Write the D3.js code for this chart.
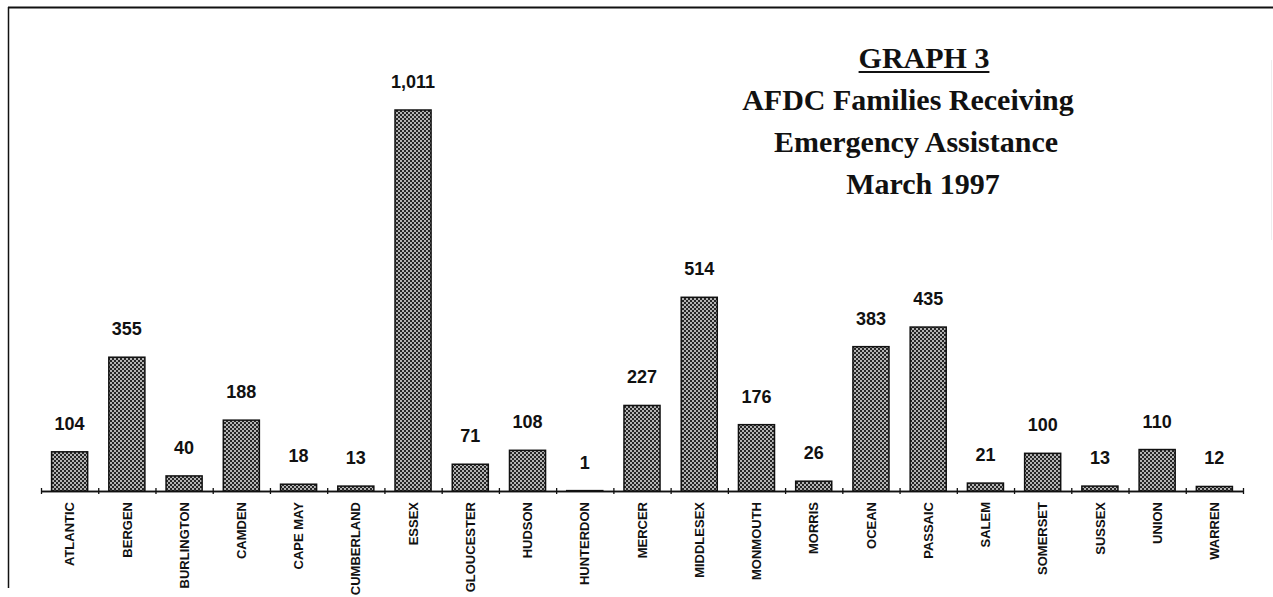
<!DOCTYPE html>
<html>
<head>
<meta charset="utf-8">
<script src="https://cdn.jsdelivr.net/npm/d3@7"></script>
<style>
  body { margin: 0; background: #fff; }
  .value { font-family: "Liberation Sans", Arial, sans-serif; font-weight: bold; font-size: 18px; fill: #111; }
  .cat { font-family: "Liberation Sans", Arial, sans-serif; font-weight: bold; font-size: 13px; fill: #111; }
  .title { font-family: "Liberation Serif", "Times New Roman", serif; font-weight: bold; font-size: 30px; fill: #111; }
</style>
</head>
<body>
<div id="chart-container"></div>
<script>
const counties = ["ATLANTIC", "BERGEN", "BURLINGTON", "CAMDEN", "CAPE MAY", "CUMBERLAND", "ESSEX",
    "GLOUCESTER", "HUDSON", "HUNTERDON", "MERCER", "MIDDLESEX", "MONMOUTH", "MORRIS", "OCEAN",
    "PASSAIC", "SALEM", "SOMERSET", "SUSSEX", "UNION", "WARREN"];
const families = [104, 355, 40, 188, 18, 13, 1011, 71, 108, 1, 227, 514, 176, 26, 383, 435, 21, 100, 13, 110, 12];
const titleLines = ["GRAPH 3", "AFDC Families Receiving", "Emergency Assistance", "March 1997"];

const svgWidth = 1273;
const svgHeight = 597;

const svg = d3.select("#chart-container")
    .append("svg")
    .attr("width", svgWidth)
    .attr("height", svgHeight);

// crosshatch fill like the scanned bars
const defs = svg.append("defs");
const pat = defs.append("pattern")
    .attr("id", "dots")
    .attr("patternUnits", "userSpaceOnUse")
    .attr("width", 4)
    .attr("height", 4);
pat.append("rect").attr("width", 4).attr("height", 4).attr("fill", "#262626");
pat.append("circle").attr("cx", 1).attr("cy", 1).attr("r", 1).attr("fill", "#e4e4e4");
pat.append("circle").attr("cx", 3).attr("cy", 3).attr("r", 1).attr("fill", "#e4e4e4");

// frame (top and left edges visible, right barely)
svg.append("line").attr("x1", 8).attr("y1", 7.5).attr("x2", svgWidth).attr("y2", 7.5)
    .attr("stroke", "#111").attr("stroke-width", 2);
svg.append("line").attr("x1", 8.5).attr("y1", 7).attr("x2", 8.5).attr("y2", 588)
    .attr("stroke", "#111").attr("stroke-width", 1.5);
svg.append("line").attr("x1", 1271.5).attr("y1", 60).attr("x2", 1271.5).attr("y2", 240)
    .attr("stroke", "#eee").attr("stroke-width", 1);

// Scales
const xScale = d3.scaleBand()
    .domain(counties)
    .range([41, 1243])
    .paddingInner(0.37)
    .paddingOuter(0.185);

const yScale = d3.scaleLinear()
    .domain([0, d3.max(families)])
    .range([491, 110]);

// boundary ticks, crossing the axis line
const edgeScale = d3.scaleLinear()
    .domain([0, counties.length])
    .range([41, 1243]);

svg.append("g")
    .attr("transform", "translate(0, 491)")
    .call(d3.axisBottom(edgeScale).tickValues(d3.range(counties.length + 1)).tickSize(3).tickSizeOuter(0).tickFormat(""))
    .call(g => g.selectAll("line, path").attr("stroke", "#111").attr("stroke-width", 1.3));
svg.append("g")
    .attr("transform", "translate(0, 491)")
    .call(d3.axisTop(edgeScale).tickValues(d3.range(counties.length + 1)).tickSize(3).tickSizeOuter(0).tickFormat(""))
    .call(g => g.selectAll("line, path").attr("stroke", "#111").attr("stroke-width", 1.3));

// Bars
svg.selectAll("rect.bar")
    .data(families)
    .join("rect")
    .attr("class", "bar")
    .attr("x", (d, i) => xScale(counties[i]))
    .attr("y", d => yScale(d))
    .attr("width", xScale.bandwidth())
    .attr("height", d => yScale(0) - yScale(d))
    .attr("fill", "url(#dots)")
    .attr("stroke", "#111")
    .attr("stroke-width", 1.5);

// Value labels
svg.selectAll("text.value")
    .data(families)
    .join("text")
    .attr("class", "value")
    .attr("x", (d, i) => xScale(counties[i]) + xScale.bandwidth() / 2)
    .attr("y", d => yScale(d) - 22)
    .attr("text-anchor", "middle")
    .text(d => d3.format(",")(d));

// Category labels, rotated
svg.selectAll("text.cat")
    .data(counties)
    .join("text")
    .attr("class", "cat")
    .attr("transform", d => `translate(${xScale(d) + xScale.bandwidth() / 2}, 502) rotate(-90)`)
    .attr("dy", "0.36em")
    .attr("text-anchor", "end")
    .text(d => d);

// Title block (lines are not quite centred on one another in the original)
const titleX = [924, 908, 916, 923];
titleLines.forEach((t, i) => {
    const txt = svg.append("text")
        .attr("class", "title")
        .attr("x", titleX[i])
        .attr("y", 68 + i * 42)
        .attr("text-anchor", "middle")
        .text(t);
    if (i === 0) {
        const w = txt.node().getComputedTextLength();
        svg.append("line")
            .attr("x1", titleX[i] - w / 2).attr("x2", titleX[i] + w / 2)
            .attr("y1", 72).attr("y2", 72)
            .attr("stroke", "#111").attr("stroke-width", 2);
    }
});
</script>
</body>
</html>
